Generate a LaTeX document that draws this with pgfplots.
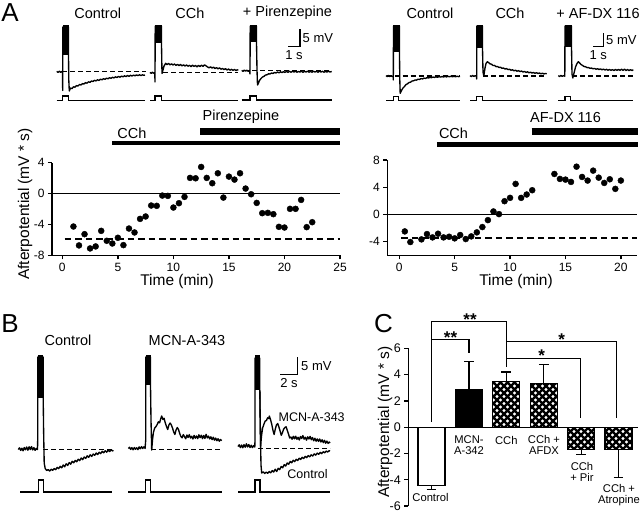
\documentclass[border=0pt]{standalone}
\usepackage{fontspec}
\setmainfont{Liberation Sans}
\usepackage{pgfplots}
\pgfplotsset{compat=1.18}
\usetikzlibrary{patterns}
\pgfdeclarepatternformonly{xhatch}{\pgfqpoint{-1.5pt}{-1.5pt}}{\pgfqpoint{8.5pt}{8.5pt}}{\pgfqpoint{7pt}{7pt}}{%
  \pgfsetlinewidth{2.4pt}%
  \pgfpathmoveto{\pgfqpoint{-1pt}{-1pt}}\pgfpathlineto{\pgfqpoint{8pt}{8pt}}%
  \pgfpathmoveto{\pgfqpoint{-1pt}{8pt}}\pgfpathlineto{\pgfqpoint{8pt}{-1pt}}%
  \pgfusepath{stroke}}
\newcommand\ftT{\fontsize{14.5}{16}\selectfont}
\newcommand\ftL{\fontsize{15.5}{17}\selectfont}
\newcommand\ftK{\fontsize{12}{14}\selectfont}
\newcommand\ftKC{\fontsize{12.5}{14}\selectfont}
\newcommand\ftS{\fontsize{13}{14}\selectfont}
\newcommand\ftSB{\fontsize{12.5}{14}\selectfont}
\newcommand\ftCat{\fontsize{11.2}{10.5}\selectfont}
\newcommand\ftP{\fontsize{26}{28}\selectfont}
\newcommand\ftAst{\fontsize{17}{18}\selectfont\bfseries}
\pgfplotsset{tr/.style={black,line width=1.35pt,line join=round},
  st/.style={black,line width=1.2pt},
  da/.style={black,line width=1.2pt,dash pattern=on 5pt off 3pt}}
\begin{document}
\begin{tikzpicture}
% ---------------- overlay in pixel units (traces and texts) ----------------
\begin{axis}[at={(0pt,0pt)},anchor=north west,scale only axis,width=640pt,height=512pt,
  xmin=0,xmax=640,ymin=0,ymax=512,y dir=reverse,axis lines=none,clip=false]
% ===== Panel A left: Control =====
\addplot[fill=black,draw=none] coordinates {(62.7,25)(68.7,25)(68.7,55)(62.7,55)};
\addplot[tr] coordinates {(56.7,71.3)(58,72.4)(59.3,71.2)(60.6,72.3)(61.8,71.5)(62.5,72)(62.7,90.5)(62.9,27)(68.5,27)(68.5,55)(68.8,80)(69.3,91)(70.5,88)(72,88.6)(73.5,86.8)(75,87.2)(76.5,85.6)(78,86)(79.5,84.5)(81,85)(82.5,83.6)(84,84)(85.5,82.6)(87,83.2)(88.5,81.8)(90,82.3)(91.5,81)(93,81.5)(94.5,80.3)(96,80.9)(97.5,79.8)(99,80.4)(100.5,79.2)(102,79.8)(103.5,78.7)(105,79.3)(106.5,78.2)(108,78.8)(109.5,77.7)(111,78.3)(112.5,77.3)(114,77.9)(115.5,76.8)(117,77.5)(118.5,76.4)(120,77.2)(121.5,76.1)(123,76.8)(124.5,75.8)(126,76.6)(127.5,75.5)(129,76.3)(130.5,75.3)(132,76)(133.5,75.1)(135,75.8)(136.5,74.9)(138,75.6)(139.5,74.8)(141,75.5)(142.5,74.8)(144,75.3)(145,75)};
\addplot[da] coordinates {(62,71.7)(146,71.7)};
\addplot[st] coordinates {(56.7,100.5)(62.7,100.5)(62.7,96)(68.3,96)(68.3,100.5)(145,100.5)};
% ===== Panel A left: CCh =====
\addplot[fill=black,draw=none] coordinates {(155,25)(161.7,25)(161.7,43)(155,43)};
\addplot[tr] coordinates {(150,72.4)(151.2,73.4)(152.4,72.2)(153.6,73.2)(154.8,72.6)(155,82)(155.2,26)(161.5,26)(161.5,44)(162,73.5)(163,70)(164,66)(165.7,63.3)(167,64.6)(168.5,63.4)(170,64.8)(171.5,63.8)(173,65)(174.5,64)(176,65.4)(177.5,64.3)(179,65.6)(180.5,64.5)(182,65.8)(183.5,64.8)(185,66)(186.5,65)(188,66.2)(189.5,65.3)(191,66.6)(192.5,65.2)(194,66.4)(195.5,65.5)(197,66.8)(198.5,65.4)(200,66.5)(201.5,65.2)(203,66.3)(204.5,64.9)(206,65.8)(207.5,66.9)(209,67.8)(210.5,66.8)(212,68)(213.5,67.2)(215,68.5)(216.5,67.6)(218,68.8)(219.5,67.8)(221,69.2)(222.5,68.5)(224,69.6)(225.5,68.6)(227,70)(228.5,69)(230,70.2)(231.5,69.3)(233,70.4)(234.5,69.5)(236,70.5)(237.3,69.8)(238.3,70.2)};
\addplot[da] coordinates {(163,72.7)(238.3,72.7)};
\addplot[st] coordinates {(150,100.5)(155,100.5)(155,96)(161.7,96)(161.7,100.5)(238.3,100.5)};
% ===== Panel A left: + Pirenzepine =====
\addplot[fill=black,draw=none] coordinates {(250,25)(256.7,25)(256.7,42)(250,42)};
\addplot[tr] coordinates {(241.7,70.3)(243,71.4)(244.3,70.0)(245.6,71.2)(246.9,70.2)(248.2,71.3)(249.5,70.5)(250,74)(250.2,26)(256.5,26)(256.5,42)(257,70)(257.5,85)(258.5,83)(259.5,80.5)(261,78.5)(262.5,77)(264,76.3)(265.5,75)(267,74.8)(268.5,73.8)(270,74)(271.5,73)(273,73.5)(274.5,72.4)(276,73)(277.5,72)(279,72.8)(280.5,71.8)(282,72.6)(283.5,71.6)(285,72.4)(286.5,71.4)(288,72.3)(289.5,71.3)(291,72.2)(292.5,71.3)(294,72.1)(295.5,71.2)(297,72.2)(298.5,71.4)(300,72.1)(301.5,71.2)(303,72.3)(304.5,71.3)(306,72)(307.5,71.1)(309,72.2)(310.5,71.4)(312,72.2)(313.5,71.2)(315,72.1)(316.5,71.3)(318,72.2)(319.5,71.2)(321,72)(322.5,71.3)(324,72.2)(325.5,71.4)(327,72.1)(328.5,71.2)(330,72)(331.7,71.5)};
\addplot[da] coordinates {(244,70.7)(331.7,70.7)};
\addplot[st] coordinates {(241.7,100)(250,100)(250,96)(256.7,96)(256.7,100)(331.7,100)};
% scale bar A left
\addplot[black,line width=1.3pt] coordinates {(288.3,46.7)(300,46.7)(300,29.3)};
% ===== Panel A right: Control =====
\addplot[fill=black,draw=none] coordinates {(393.3,25)(400,25)(400,52)(393.3,52)};
\addplot[tr] coordinates {(386,75.6)(387.2,76.6)(388.4,75.4)(389.6,76.5)(390.8,75.7)(392,76.4)(393.2,76)(393.3,80)(393.5,26)(399.5,26)(399.5,55)(399.8,80)(400.2,93.3)(401.5,90.5)(403,88)(404.5,86.5)(406,84.5)(407.5,83.8)(409,82.5)(410.5,82.2)(412,81)(413.5,80.8)(415,80)(416.5,80.1)(418,79.2)(419.5,79.4)(421,78.6)(422.5,78.9)(424,78.1)(425.5,78.4)(427,77.6)(428.5,78)(430,77.3)(431.5,77.7)(433,77)(434.5,77.4)(436,76.8)(437.5,77.3)(439,76.6)(440.5,77.1)(442,76.5)(443.5,77)(445,76.4)(446.5,76.9)(448,76.3)(449.5,76.8)(451,76.2)(452.5,76.8)(454,76.2)(455.5,76.7)(457,76.2)(458.5,76.6)(460,76.3)};
\addplot[da] coordinates {(386.7,76)(460,76)};
\addplot[st] coordinates {(386,100.7)(393.3,100.7)(393.3,96.5)(398.5,96.5)(398.5,100.7)(460,100.7)};
% ===== Panel A right: CCh =====
\addplot[fill=black,draw=none] coordinates {(476.7,25)(482.7,25)(482.7,48)(476.7,48)};
\addplot[tr] coordinates {(470,75.6)(471.3,76.5)(472.6,75.5)(473.9,76.4)(475.2,75.7)(476.5,76.2)(476.7,79)(476.9,26)(482.5,26)(482.5,48)(483,72)(483.8,76)(485,68)(486,63.5)(487.3,61.7)(488.5,62.5)(490,63.8)(491.5,64.2)(493,65.5)(494.5,65.4)(496,66.6)(497.5,66.5)(499,67.5)(500.5,67.2)(502,68.3)(503.5,68)(505,69)(506.5,68.6)(508,69.6)(509.5,69.2)(511,70.2)(512.5,69.8)(514,70.8)(515.5,70.2)(517,71.2)(518.5,70.6)(520,71.6)(521.5,71)(523,72)(524.5,71.4)(526,72.4)(527.5,71.8)(529,72.8)(530.5,72.2)(532,73)(533.5,72.5)(535,73.3)(536.5,72.7)(538,73.5)(539.5,73)(541,73.8)(542.5,73.2)(544,73.9)(545.5,73.4)(546.7,73.8)};
\addplot[da] coordinates {(483,76)(546.7,76)};
\addplot[st] coordinates {(470,100.7)(476.7,100.7)(476.7,96.5)(482.7,96.5)(482.7,100.7)(546.7,100.7)};
% ===== Panel A right: + AF-DX 116 =====
\addplot[fill=black,draw=none] coordinates {(565,25)(571.7,25)(571.7,46.7)(565,46.7)};
\addplot[tr] coordinates {(558.3,75.6)(559.6,76.5)(560.9,75.4)(562.2,76.4)(563.5,75.6)(564.8,76.2)(565,26)(571.5,26)(571.5,47)(572,74)(572.8,78)(574,73)(575.5,67)(577,63.5)(578.3,61.7)(579.5,62.8)(581,64.5)(582.5,65.4)(584,66.5)(585.5,66.7)(587,67.6)(588.5,67.5)(590,68.3)(591.5,68)(593,68.8)(594.5,68.4)(596,69.2)(597.5,68.7)(599,69.5)(600.5,68.9)(602,69.8)(603.5,69.1)(605,70)(606.5,69.3)(608,70.2)(609.5,69.5)(611,70.3)(612.5,69.6)(614,70.5)(615.5,69.4)(617,70.4)(618.5,69.3)(620,70.4)(621.5,69.2)(623,70.3)(624.5,69.1)(626,70.5)(627.5,69.5)(629,70.6)(630.5,69.6)(632,70.5)(633.3,69.8)};
\addplot[da] coordinates {(572,76)(633.3,76)};
\addplot[st] coordinates {(558.3,100.7)(565,100.7)(565,96.5)(570.5,96.5)(570.5,100.7)(633.3,100.7)};
% scale bar A right
\addplot[black,line width=1.3pt] coordinates {(593.3,46.7)(603.3,46.7)(603.3,32.7)};
% ===== Panel B: Control =====
\addplot[fill=black,draw=none] coordinates {(37.7,355)(43.3,355)(43.3,398)(37.7,398)};
\addplot[tr] coordinates {(18.3,449.5)(19.5,447.8)(20.7,450.4)(21.9,448.2)(23.1,450.8)(24.3,447.5)(25.5,449.8)(26.7,447)(27.9,450.2)(29.1,446.8)(30.3,449.6)(31.5,446.5)(32.7,449.9)(33.9,447.6)(35.1,450.3)(36.3,448.4)(37.5,449.6)(37.7,440)(37.8,357)(43.2,357)(43.2,398)(43.6,430)(44.2,463)(45.2,468.5)(46.7,470.5)(48.2,469.6)(49.7,471)(51.2,469.2)(52.7,470.3)(54.2,468.5)(55.7,469.6)(57.2,467.4)(58.7,468.6)(60.2,466.3)(61.7,467.8)(63.2,465)(64.7,466.8)(66.2,463.8)(67.7,465.5)(69.2,462.6)(70.7,464.2)(72.2,461.3)(73.7,462.8)(75.2,460.4)(76.7,461.8)(78.2,459.2)(79.7,460.6)(81.2,458)(82.7,459.6)(84.2,457)(85.7,458.4)(87.2,455.8)(88.7,457.3)(90.2,454.8)(91.7,456.4)(93.2,454)(94.7,455.3)(96.2,453)(97.7,454.5)(99.2,452.2)(100.7,453.6)(102.2,451.3)(103.7,452.8)(105.2,450.7)(106.7,452.2)(108.2,450)(109.7,451.5)(111.2,449.8)(112.7,451)(113.3,450.3)};
\addplot[da] coordinates {(43.3,449.3)(113.3,449.3)};
\addplot[st] coordinates {(20,492)(38.3,492)(38.3,480)(43.3,480)(43.3,492)(111.7,492)};
% ===== Panel B: MCN-A-343 =====
\addplot[fill=black,draw=none] coordinates {(145.7,355)(150.7,355)(150.7,385)(145.7,385)};
\addplot[tr] coordinates {(128.3,448.5)(129.5,447.2)(130.7,449.4)(131.9,447.6)(133.1,449.8)(134.3,447.5)(135.5,449.3)(136.7,447.8)(137.9,449.6)(139.1,446.9)(140.3,448.8)(141.5,446.6)(142.7,448.5)(143.9,446.8)(145.1,448.4)(145.7,440)(145.8,357)(150.5,357)(150.5,385)(151,420)(151.7,450)(152.5,440)(153.5,432)(154.7,428)(156,426.5)(157.2,424.5)(158.4,421.8)(159.6,422.8)(160.8,418.5)(161.7,416)(162.9,419.5)(164.1,418.3)(165.3,423)(166.5,426.5)(167.7,429.5)(168.9,425)(170.1,423)(171.3,424.8)(172.5,428)(173.7,432)(174.9,434.5)(176.1,429.8)(177.3,427.5)(178.5,429.5)(179.7,433.5)(180.9,436.5)(182.1,437.8)(183.3,434.6)(184.5,436.6)(185.7,438.8)(186.9,435)(188.1,437.5)(189.3,434.6)(190.5,438)(191.7,436.2)(192.9,439)(194.1,435.4)(195.3,438.2)(196.5,436)(197.7,438.6)(198.9,434.8)(200.1,437.6)(201.3,435.2)(202.5,438.7)(203.7,435.5)(204.9,438.5)(206.1,434.3)(207.3,437.9)(208.5,436.1)(209.7,438.9)(210.9,436.8)(212.1,439.6)(213.3,437.2)(214.5,440.2)(215.7,438.1)(216.9,440.7)(218.1,438.7)(219.3,441.2)(220.5,439.5)(221.7,440.6)};
\addplot[da] coordinates {(151,449.3)(221.7,449.3)};
\addplot[st] coordinates {(128.3,492)(145.7,492)(145.7,480)(150.7,480)(150.7,492)(221.7,492)};
% ===== Panel B: overlay =====
\addplot[fill=black,draw=none] coordinates {(255,355)(260,355)(260,390)(255,390)};
\addplot[tr] coordinates {(238,446.5)(239.2,444.8)(240.4,447.6)(241.6,445)(242.8,447.8)(244,444.6)(245.2,447.2)(246.4,443.8)(247.6,447)(248.8,444.5)(250,447.5)(251.2,445.2)(252.4,447.6)(253.6,445.6)(254.8,447)(255,440)(255.1,358)(259.8,358)(259.8,390)(260.2,420)(260.6,446)(261.5,436)(262.6,428)(264,424)(265.2,421)(266.4,420.5)(267.6,417.8)(268.8,418.6)(269.3,416)(270.5,419.5)(271.7,424)(272.9,430)(274.1,434.5)(275.3,429)(276.5,424.8)(277.7,423.5)(278.9,427)(280.1,431)(281.3,435.3)(282.5,432.5)(283.7,429)(284.9,427.5)(286.1,426.8)(287.3,430.4)(288.5,434)(289.7,438)(290.9,437)(292.1,439.2)(293.3,436.3)(294.5,438.8)(295.7,436.2)(296.9,439.3)(298.1,437.2)(299.3,440)(300.5,436.5)(301.7,438.5)(302.9,435.6)(304.1,439.1)(305.3,437.3)(306.5,440.2)(307.7,436.8)(308.9,439)(310.1,436.4)(311.3,439.7)(312.5,437.5)(313.7,440.8)(314.9,438.2)(316.1,441.2)(317.3,438.9)(318.5,441.4)(319.7,439)(320.9,442)(322.1,439.8)(323.3,442.6)(324.5,440.3)(325.7,443.2)(326.9,441.1)(328.1,443.4)(329.3,442)(330,443)};
\addplot[tr] coordinates {(259.8,390)(260.5,440)(261,465)(261.7,473)(263.2,471.8)(264.7,473.5)(266.2,472)(267.7,473.3)(269.2,471.5)(270.7,472.8)(272.2,470.6)(273.7,472)(275.2,469.2)(276.7,471.5)(278.2,468.3)(279.7,469.6)(281.2,466.4)(282.7,467.8)(284.2,464.6)(285.7,466)(287.2,463)(288.7,464.2)(290.2,461.4)(291.7,462.8)(293.2,460.2)(294.7,461.6)(296.2,459.3)(297.7,460.5)(299.2,458.2)(300.7,459.4)(302.2,457.3)(303.7,458.5)(305.2,456.4)(306.7,457.6)(308.2,455.6)(309.7,456.8)(311.2,454.8)(312.7,456)(314.2,453.9)(315.7,455.1)(317.2,453.1)(318.7,454.3)(320.2,452.4)(321.7,453.6)(323.2,451.7)(324.7,452.8)(326.2,451)(327.7,452)(329.2,450.6)(330,451.2)};
\addplot[da] coordinates {(258,448.3)(330,448.3)};
\addplot[st] coordinates {(238,492)(255,492)(255,480)(260,480)(260,492)(330,492)};
% scale bar B
\addplot[black,line width=1.3pt] coordinates {(280,374.3)(297.7,374.3)(297.7,356.7)};
% ===== texts =====
\node[font=\ftP] at (axis cs:10,13) {A};
\node[font=\ftP] at (axis cs:10,324) {B};
\node[font=\ftP] at (axis cs:383.5,324) {C};
\node[font=\ftT] at (axis cs:97.7,13) {Control};
\node[font=\ftT] at (axis cs:190,13) {CCh};
\node[font=\ftT] at (axis cs:287.5,13) {+ Pirenzepine};
\node[font=\ftT] at (axis cs:430,13) {Control};
\node[font=\ftT] at (axis cs:510,13) {CCh};
\node[font=\ftT] at (axis cs:598,13) {+ AF-DX 116};
\node[font=\ftS,anchor=west,inner sep=0pt] at (axis cs:302.5,38) {5 mV};
\node[font=\ftS] at (axis cs:294,55) {1 s};
\node[font=\ftS,anchor=west,inner sep=0pt] at (axis cs:606,40) {5 mV};
\node[font=\ftS] at (axis cs:598.3,55) {1 s};
\node[font=\ftT] at (axis cs:132,133) {CCh};
\node[font=\ftT] at (axis cs:241,117) {Pirenzepine};
\node[font=\ftT] at (axis cs:453.5,133) {CCh};
\node[font=\ftT] at (axis cs:565.5,117) {AF-DX 116};
\node[font=\ftL,rotate=90] at (axis cs:25,204) {Afterpotential (mV * s)};
\node[font=\ftL] at (axis cs:177,281) {Time (min)};
\node[font=\ftL] at (axis cs:516,281) {Time (min)};
\node[font=\ftT] at (axis cs:68,340) {Control};
\node[font=\ftT] at (axis cs:187,340) {MCN-A-343};
\node[font=\ftS,anchor=west,inner sep=0pt] at (axis cs:301,366) {5 mV};
\node[font=\ftS] at (axis cs:289,383) {2 s};
\node[font=\ftSB] at (axis cs:311.7,416.7) {MCN-A-343};
\node[font=\ftSB] at (axis cs:307.5,474.3) {Control};
\node[font=\ftL,rotate=90] at (axis cs:385,422) {Afterpotential (mV * s)};
\node[font=\ftCat] at (axis cs:430.5,497) {Control};
\node[font=\ftCat,align=center] at (axis cs:469,445) {MCN-\\A-342};
\node[font=\ftCat] at (axis cs:506.3,440) {CCh};
\node[font=\ftCat,align=center] at (axis cs:544,445) {CCh +\\AFDX};
\node[font=\ftCat,align=center] at (axis cs:582,472) {CCh\\+ Pir};
\node[font=\ftCat,align=center] at (axis cs:619,495) {CCh +\\Atropine};
\node[font=\ftAst,anchor=base,inner sep=0pt] at (axis cs:470,325) {**};
\node[font=\ftAst,anchor=base,inner sep=0pt] at (axis cs:450.5,343.5) {**};
\node[font=\ftAst,anchor=base,inner sep=0pt] at (axis cs:561.7,345.5) {*};
\node[font=\ftAst,anchor=base,inner sep=0pt] at (axis cs:541.7,361) {*};
\end{axis}
% ---------------- A left scatter ----------------
\begin{axis}[at={(52pt,-255.3pt)},anchor=south west,scale only axis,width=288pt,height=92.6pt,
  xmin=-0.93,xmax=25,ymin=-8,ymax=4,axis x line*=bottom,axis y line*=left,
  xtick={0,5,10,15,20,25},xticklabels={0,5,10,15,20,25},
  ytick={-8,-4,0,4},yticklabels={-8,-4,0,4},
  tick align=outside,major tick length=4pt,
  axis line style={line width=1.3pt},every tick/.style={black,line width=1.3pt},
  ticklabel style={font=\ftK},clip=false]
\addplot[black,line width=1.3pt] coordinates {(-0.93,0)(25,0)};
\addplot[black,line width=1.4pt,dash pattern=on 6.5pt off 4pt] coordinates {(0.2,-5.88)(25,-5.88)};
\addplot[only marks,mark=*,mark size=3pt,black] coordinates {
(1.0,-4.27)(1.5,-6.72)(2.0,-5.26)(2.5,-7.11)(3.0,-6.85)(3.5,-4.83)(4.0,-6.12)(4.5,-6.47)(5.0,-5.73)(5.5,-6.68)
(6.0,-4.53)(6.5,-5.04)(7.0,-3.28)(7.5,-2.97)(8.0,-1.55)(8.5,-1.59)(9.0,-0.26)(9.5,-0.30)(10.0,-1.81)(10.5,-1.25)
(11.0,-0.43)(11.5,2.03)(12.0,1.98)(12.5,3.45)(13.0,2.03)(13.5,1.34)(14.0,2.63)(14.5,-0.52)(15.0,2.20)(15.5,1.81)
(16.0,2.63)(16.5,0.65)(17.0,-0.09)(17.5,-1.21)(18.0,-2.54)(18.5,-2.50)(19.0,-2.67)(19.5,-4.31)(20.0,-4.40)(20.5,-1.98)
(21.0,-1.98)(21.5,-0.82)(22.0,-4.35)(22.5,-3.71)};
\addplot[black,line width=4.5pt] coordinates {(4.48,6.55)(25.0,6.55)};
\addplot[black,line width=7pt] coordinates {(12.4,8.04)(25.0,8.04)};
\end{axis}
% ---------------- A right scatter ----------------
\begin{axis}[at={(387.3pt,-255.3pt)},anchor=south west,scale only axis,width=249.4pt,height=95.3pt,
  xmin=-1.08,xmax=21.43,ymin=-6,ymax=8,axis x line*=bottom,axis y line*=left,
  xtick={0,5,10,15,20},xticklabels={0,5,10,15,20},
  ytick={-4,0,4,8},yticklabels={-4,0,4,8},
  tick align=outside,major tick length=4pt,
  axis line style={line width=1.3pt},every tick/.style={black,line width=1.3pt},
  ticklabel style={font=\ftK},clip=false]
\addplot[black,line width=1.3pt] coordinates {(-1.08,0)(21.43,0)};
\addplot[black,line width=1.4pt,dash pattern=on 6.5pt off 4pt] coordinates {(0.2,-3.46)(21.43,-3.46)};
\addplot[only marks,mark=*,mark size=3pt,black] coordinates {
(0.5,-2.49)(1.0,-4.05)(2.0,-3.66)(2.5,-2.88)(3.0,-3.37)(3.5,-2.83)(4.0,-3.37)(4.5,-3.27)(5.0,-3.51)(5.5,-3.02)
(6.0,-3.61)(6.5,-3.22)(7.0,-2.63)(7.5,-1.85)(8.0,-0.83)(8.5,0.44)(9.0,0.05)(9.5,1.95)(10.0,2.44)(10.5,4.49)
(11.0,2.44)(11.5,2.93)(12.0,3.56)(14.0,5.95)(14.5,5.22)(15.0,5.12)(15.5,4.78)(16.0,7.02)(16.5,5.51)(17.0,4.98)
(17.5,6.44)(18.0,5.41)(18.5,4.63)(19.0,5.17)(19.5,3.76)(20.0,4.98)};
\addplot[black,line width=4.5pt] coordinates {(3.40,10.29)(21.55,10.29)};
\addplot[black,line width=7pt] coordinates {(11.95,12.12)(21.55,12.12)};
\end{axis}
% ---------------- C bar chart ----------------
\begin{axis}[at={(408.3pt,-506pt)},anchor=south west,scale only axis,width=229.7pt,height=157.7pt,
  xmin=-0.62,xmax=5.52,ymin=-6,ymax=6,axis y line*=left,axis x line=none,
  ytick={-6,-4,-2,0,2,4,6},yticklabels={-6,-4,-2,0,2,4,6},
  tick align=outside,major tick length=4pt,
  axis line style={line width=1.3pt},every tick/.style={black,line width=1.3pt},
  yticklabel style={font=\ftKC},clip=false]
\addplot[ybar,bar width=27pt,draw=black,line width=1.2pt,fill=white] coordinates {(0,-4.45)};
\addplot[ybar,bar width=27pt,draw=black,line width=1.2pt,fill=black] coordinates {(1,2.87)};
\addplot[ybar,bar width=27pt,draw=black,line width=1.2pt,pattern=xhatch] coordinates {(2,3.45)(3,3.30)(4,-1.68)(5,-1.68)};
\addplot[black,line width=1.3pt] coordinates {(-0.62,0)(5.52,0)};
% error bars
\addplot[black,line width=1.2pt] coordinates {(0,-4.45)(0,-4.75)};
\addplot[black,line width=1.2pt] coordinates {(-0.13,-4.75)(0.13,-4.75)};
\addplot[black,line width=1.2pt] coordinates {(1,2.87)(1,5.0)};
\addplot[black,line width=1.2pt] coordinates {(0.87,5.0)(1.13,5.0)};
\addplot[black,line width=1.2pt] coordinates {(2,3.45)(2,4.2)};
\addplot[black,line width=1.2pt] coordinates {(1.87,4.2)(2.13,4.2)};
\addplot[black,line width=1.2pt] coordinates {(3,3.30)(3,4.75)};
\addplot[black,line width=1.2pt] coordinates {(2.87,4.75)(3.13,4.75)};
\addplot[black,line width=1.2pt] coordinates {(4,-1.68)(4,-2.1)};
\addplot[black,line width=1.2pt] coordinates {(3.87,-2.1)(4.13,-2.1)};
\addplot[black,line width=1.2pt] coordinates {(5,-1.68)(5,-3.82)};
\addplot[black,line width=1.2pt] coordinates {(4.87,-3.82)(5.13,-3.82)};
% significance brackets
\addplot[black,line width=1.2pt] coordinates {(0,0.43)(0,8.04)(2,8.04)(2,4.61)};
\addplot[black,line width=1.2pt] coordinates {(0,6.68)(1,6.68)(1,5.62)};
\addplot[black,line width=1.2pt] coordinates {(2,6.51)(4.95,6.51)(4.95,0.71)};
\addplot[black,line width=1.2pt] coordinates {(2,5.25)(3.99,5.25)(3.99,0.71)};
\end{axis}
\pgfresetboundingbox
\useasboundingbox (0pt,0pt) rectangle (640pt,-512pt);
\end{tikzpicture}
\end{document}
